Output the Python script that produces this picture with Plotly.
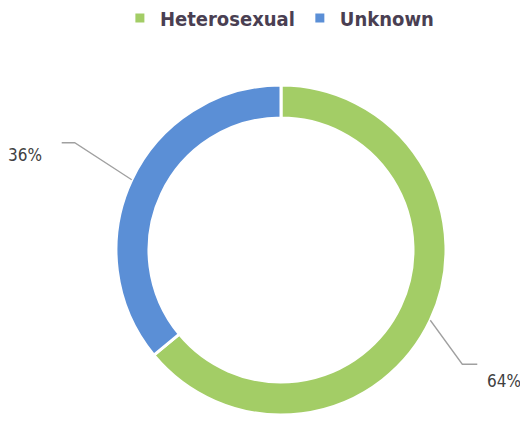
import math
import plotly.graph_objects as go

categories = ["Heterosexual", "Unknown"]
values = [64, 36]
colors = ["#a3cd66", "#5b8fd6"]

W, H = 528, 429
OFF = 8  # page body margin offset
cx, cy, R = 281 - OFF, 250 - OFF, 165  # pixel centre / outer radius (figure coords)
hole = 0.80

fig = go.Figure(go.Pie(
    labels=categories, values=values, sort=False, direction="clockwise", rotation=0,
    hole=hole, marker=dict(colors=colors, line=dict(color="white", width=3)),
    textinfo="none", hoverinfo="label+percent",
    domain=dict(x=[(cx - R) / W, (cx + R) / W], y=[1 - (cy + R) / H, 1 - (cy - R) / H]),
))

# leader-line layout per slice (pixels): elbow offset, horizontal segment, text offset from line end
elbow = [(32, 44), (-57, -37)]
hseg = [15, -13]
txt_off = [(8, 17), (-18, 12.5)]
lab_font = dict(size=17, color="#404040", family="DejaVu Sans Condensed, sans-serif")
total = sum(values)
cum = 0
shapes, annos = [], []
for i, v in enumerate(values):
    mid = (cum + v / 2) / total * 2 * math.pi
    cum += v
    sx = cx + R * math.sin(mid)
    sy = cy - R * math.cos(mid)
    ex, ey = sx + elbow[i][0], sy + elbow[i][1]
    hx = ex + hseg[i]
    pts = [(sx, sy), (ex, ey), (hx, ey)]
    path = "M " + " L ".join(f"{x / W},{1 - y / H}" for x, y in pts)
    shapes.append(dict(type="path", xref="paper", yref="paper", path=path,
                       line=dict(color="#a0a0a0", width=1.3)))
    pct = f"{round(v / total * 100)}%"
    annos.append(dict(x=(hx + txt_off[i][0]) / W, y=1 - (ey + txt_off[i][1]) / H,
                      xref="paper", yref="paper", text=pct, showarrow=False,
                      xanchor="left" if hseg[i] > 0 else "right", yanchor="middle", font=lab_font))

fig.update_layout(
    width=W, height=H, margin=dict(l=0, r=0, t=0, b=0, autoexpand=False),
    paper_bgcolor="white", plot_bgcolor="white",
    shapes=shapes, annotations=annos,
    showlegend=True,
    legend=dict(orientation="h", x=0.514, xanchor="center", y=1.022, yanchor="top",
                font=dict(size=20, color="#4a3f52", weight="bold",
                          family="DejaVu Sans Condensed, sans-serif"),
                itemwidth=30, traceorder="normal"),
)

fig.write_html("out.html")
